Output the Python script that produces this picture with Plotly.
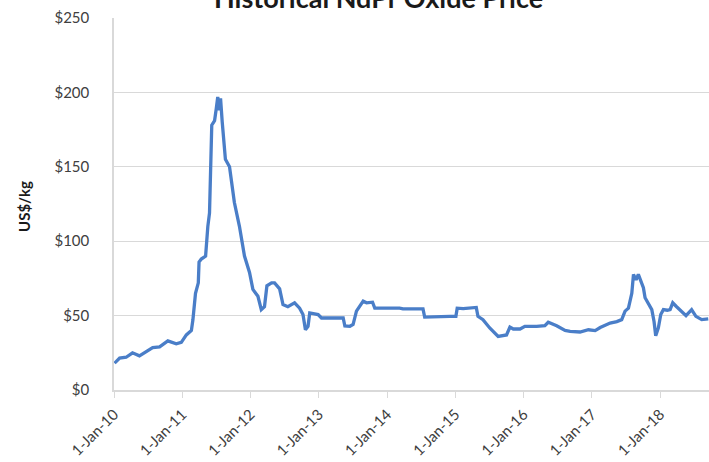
import plotly.graph_objects as go

# NdPr oxide price history, US$/kg
dates = [
    "2010-01-04", "2010-01-31", "2010-03-07", "2010-04-10", "2010-05-17", "2010-06-22",
    "2010-07-27", "2010-09-02", "2010-10-16", "2010-11-30", "2010-12-27", "2011-01-23",
    "2011-02-19", "2011-02-27", "2011-03-13", "2011-03-28", "2011-04-01", "2011-04-13",
    "2011-05-06", "2011-05-18", "2011-05-27", "2011-06-08", "2011-06-23", "2011-07-02",
    "2011-07-10", "2011-07-19", "2011-07-25", "2011-08-03", "2011-08-20", "2011-09-11",
    "2011-09-20", "2011-10-07", "2011-11-03", "2011-11-30", "2011-12-27", "2012-01-14",
    "2012-02-10", "2012-02-28", "2012-03-16", "2012-03-29", "2012-04-23", "2012-05-09",
    "2012-06-05", "2012-06-14", "2012-06-23", "2012-07-19", "2012-08-24", "2012-09-20",
    "2012-10-08", "2012-10-21", "2012-11-04", "2012-11-13", "2012-12-28", "2013-01-15",
    "2013-05-11", "2013-05-20", "2013-06-16", "2013-07-03", "2013-07-21", "2013-08-26",
    "2013-09-13", "2013-10-15", "2013-10-27", "2014-03-09", "2014-03-27", "2014-07-12",
    "2014-07-21", "2014-12-02", "2015-01-04", "2015-01-11", "2015-02-12", "2015-04-23",
    "2015-05-02", "2015-05-29", "2015-07-04", "2015-08-18", "2015-09-14", "2015-10-02",
    "2015-10-20", "2015-11-07", "2015-12-13", "2016-01-08", "2016-03-11", "2016-04-24",
    "2016-05-12", "2016-06-26", "2016-08-10", "2016-09-06", "2016-10-29", "2016-12-13",
    "2017-01-18", "2017-02-14", "2017-04-08", "2017-05-14", "2017-06-09", "2017-06-27",
    "2017-07-15", "2017-08-02", "2017-08-11", "2017-08-25", "2017-09-06", "2017-09-19",
    "2017-10-03", "2017-10-12", "2017-10-30", "2017-11-17", "2017-11-29", "2017-12-08",
    "2017-12-22", "2018-01-04", "2018-01-18", "2018-02-08", "2018-02-23", "2018-03-09",
    "2018-03-27", "2018-04-26", "2018-05-19", "2018-06-18", "2018-07-11", "2018-08-11",
    "2018-08-28", "2018-09-15",
]
prices = [
    18, 21.5, 22, 25, 23, 26,
    28.5, 29, 33, 31, 32, 37,
    40, 47, 65, 72, 86, 88,
    90, 110, 119, 178, 181, 189,
    197, 188, 196, 180, 155, 150,
    142, 126, 110, 90, 79, 67.6,
    63, 54, 56, 70, 72, 72,
    68, 63, 57.4, 56, 58.6, 55,
    50.7, 40.5, 42.8, 51.8, 50.7, 48.4,
    48.4, 43, 42.8, 44, 53, 59.7,
    58.6, 59, 55, 55, 54.5, 54.5,
    49, 49.5, 49.5, 55, 54.7, 55.5,
    49.5, 47.3, 41.7, 36, 36.5, 37,
    42.3, 41, 41, 42.8, 42.8, 43.2,
    45.5, 43.2, 40, 39.4, 39, 40.5,
    39.9, 42, 45, 46, 47.3, 53,
    55, 65, 77.7, 74, 77.7, 74,
    68.7, 62, 57.4, 54, 46, 36.5,
    41.7, 50.7, 54, 53.6, 54, 58.6,
    56.3, 53, 50, 54, 49.5, 47.3,
    47.8, 47.8,
]

title_text = "Historical NdPr Oxide Price"
y_title = "US$/kg"
y_ticks = [0, 50, 100, 150, 200, 250]
y_tick_labels = ["$0", "$50", "$100", "$150", "$200", "$250"]
x_range = ["2010-01-01", "2018-09-19"]

font_family = "Lato, 'Open Sans', sans-serif"
grid_col = "#d9d9d9"
text_col = "#404040"

# plot area spans 114..709 px horizontally, 18..390 px vertically
plot_w, plot_h = 595, 372

fig = go.Figure()
fig.add_trace(go.Scatter(
    x=dates, y=prices, mode="lines",
    line=dict(color="#4a7ec8", width=3.3),
    hoverinfo="x+y",
    showlegend=False,
))

fig.update_layout(
    width=709, height=462,
    margin=dict(l=114, r=0, t=18, b=72, autoexpand=False),
    paper_bgcolor="white", plot_bgcolor="white",
    font=dict(family=font_family, color=text_col, size=14),
    annotations=[
        dict(
            text="<b>" + title_text + "</b>",
            xref="paper", yref="paper",
            x=(378 - 114) / plot_w, y=(390 + 3) / plot_h,
            xanchor="center", yanchor="middle",
            showarrow=False,
            font=dict(size=27, color="#1a1a1a", family=font_family),
        ),
        dict(
            text="<b>" + y_title + "</b>",
            xref="paper", yref="paper",
            x=(24 - 114) / plot_w, y=0.492,
            xanchor="center", yanchor="middle",
            textangle=-90, showarrow=False,
            font=dict(size=15, color="#1a1a1a", family=font_family),
        ),
    ],
)

fig.update_xaxes(
    type="date", range=x_range,
    dtick="M12", tick0="2010-01-01",
    tickformat="%-d-%b-%y", tickangle=-45,
    ticks="outside", ticklen=6, tickcolor=grid_col, tickwidth=1,
    ticklabelstandoff=2, automargin=False,
    showgrid=False, showline=True, linecolor=grid_col, linewidth=1.5,
    tickfont=dict(size=15, color=text_col),
    zeroline=False,
)
fig.update_yaxes(
    range=[0, 250], tickvals=y_ticks, ticktext=y_tick_labels,
    showgrid=True, gridcolor=grid_col, gridwidth=1,
    showline=True, linecolor=grid_col, linewidth=1.5,
    ticks="", ticklabelstandoff=20, automargin=False,
    tickfont=dict(size=15, color=text_col),
    zeroline=False,
)

fig.write_html("out.html")
